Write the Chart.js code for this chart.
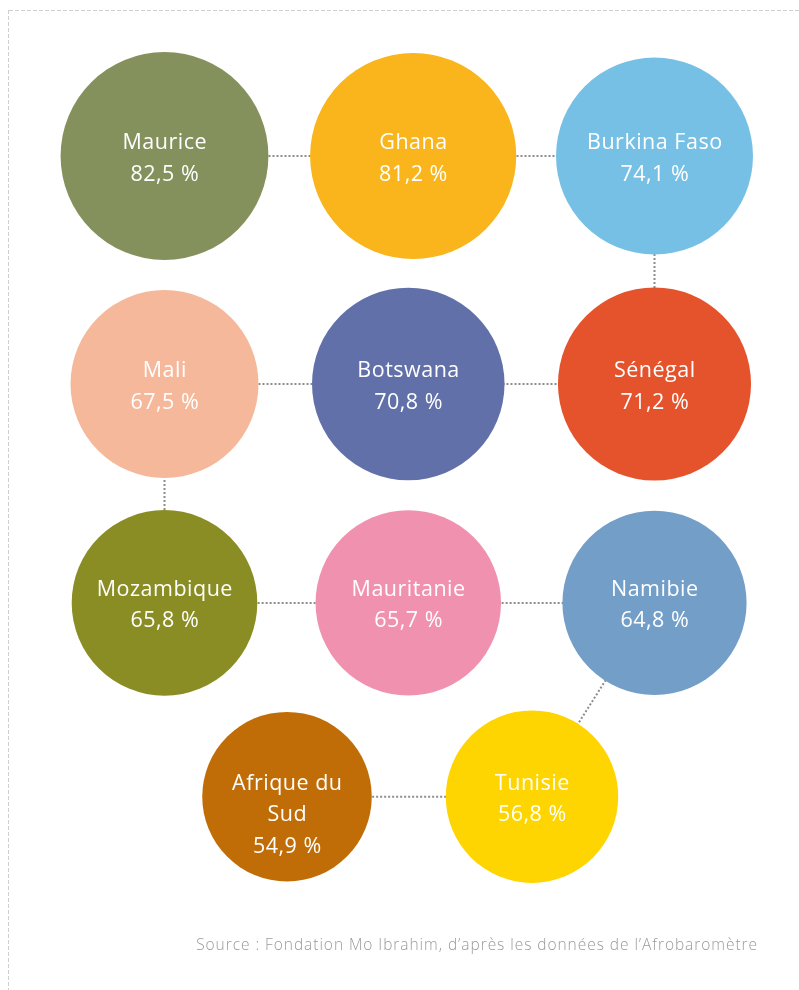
<!DOCTYPE html>
<html>
<head>
<meta charset="utf-8">
<script src="https://cdn.jsdelivr.net/npm/chart.js@4"></script>
<style>
  html, body { margin: 0; padding: 0; background: #fff; }
  #wrap { position: relative; width: 799px; height: 990px; }
  #source {
    position: absolute; right: 41px; top: 933px;
    font: 300 15.5px "Open Sans", Lato, sans-serif; color: #9a9a9a;
    letter-spacing: 0.95px;
    white-space: nowrap;
  }
</style>
</head>
<body>
<div id="wrap">
  <canvas id="myChart" width="799" height="990"></canvas>
  <div id="source">Source : Fondation Mo Ibrahim, d’après les données de l’Afrobaromètre</div>
</div>
<script>
// pays et pourcentages
const pays = ["Maurice", "Ghana", "Burkina Faso", "Mali", "Botswana", "Sénégal",
  "Mozambique", "Mauritanie", "Namibie", ["Afrique du", "Sud"], "Tunisie"];
const waarden = [82.5, 81.2, 74.1, 67.5, 70.8, 71.2, 65.8, 65.7, 64.8, 54.9, 56.8];

// plaats in het rooster (kolom, rij)
const kolom = [0, 1.015, 2, 0, 0.995, 2, 0, 0.995, 2, 0.5, 1.5];
const rij = [0, 0, 0, 1, 1, 1, 1.96, 1.96, 1.96, 2.81, 2.81];

// volgorde van de stippellijn
const pad = [0, 1, 2, 5, 4, 3, 6, 7, 8, 10, 9];

const kleuren = ["#85915d", "#f9b51b", "#76c0e6", "#f5b89a", "#6270aa", "#e5532d",
  "#8a8d23", "#f092af", "#729ec8", "#c06d07", "#fed500"];

// oppervlakte evenredig met de waarde
const straal = v => 11.44 * Math.sqrt(v);

const bubbels = [];
for (let i = 0; i < waarden.length; i++) {
  bubbels.push({ x: kolom[i], y: rij[i], r: straal(waarden[i]) });
}
const lijn = pad.map(i => ({ x: kolom[i], y: rij[i] }));

const rand = {
  id: "rand",
  beforeDraw(chart) {
    const ctx = chart.ctx;
    ctx.save();
    ctx.strokeStyle = "#cfcfcf";
    ctx.lineWidth = 1;
    ctx.setLineDash([4, 2]);
    ctx.beginPath();
    ctx.moveTo(9, 10.5);
    ctx.lineTo(799, 10.5);
    ctx.moveTo(8.5, 10);
    ctx.lineTo(8.5, 990);
    ctx.stroke();
    ctx.restore();
  }
};

const teksten = {
  id: "teksten",
  afterDatasetsDraw(chart) {
    const ctx = chart.ctx;
    const meta = chart.getDatasetMeta(0);
    ctx.save();
    ctx.fillStyle = "#fff";
    ctx.font = "400 21.5px 'Open Sans', Lato, sans-serif";
    ctx.letterSpacing = "0.5px";
    ctx.textAlign = "center";
    ctx.textBaseline = "alphabetic";
    meta.data.forEach((el, i) => {
      const regels = [].concat(pays[i]);
      regels.push(waarden[i].toFixed(1).replace(".", ",") + " %");
      regels.forEach((t, j) => {
        ctx.fillText(t, el.x + 0.3, el.y - 7 + j * 31.5);
      });
    });
    ctx.restore();
  }
};

new Chart(document.getElementById("myChart"), {
  type: "bubble",
  data: {
    datasets: [
      {
        data: bubbels,
        backgroundColor: kleuren,
        borderWidth: 0,
        hoverBorderWidth: 0,
        hoverRadius: 0,
        clip: false,
      },
      {
        type: "line",
        data: lijn,
        borderColor: "#8c8c8c",
        borderWidth: 2,
        borderDash: [2, 2],
        pointRadius: 0,
        fill: false,
        tension: 0,
        clip: false,
      },
    ],
  },
  options: {
    responsive: false,
    animation: false,
    devicePixelRatio: 1,
    layout: { padding: 0, autoPadding: false },
    plugins: {
      legend: { display: false },
      tooltip: { enabled: false },
    },
    scales: {
      x: { type: "linear", display: false, min: -164.5 / 245, max: (799 - 164.5) / 245 },
      y: { type: "linear", display: false, reverse: true, min: -156 / 228, max: (990 - 156) / 228 },
    },
  },
  plugins: [rand, teksten],
});
</script>
</body>
</html>
